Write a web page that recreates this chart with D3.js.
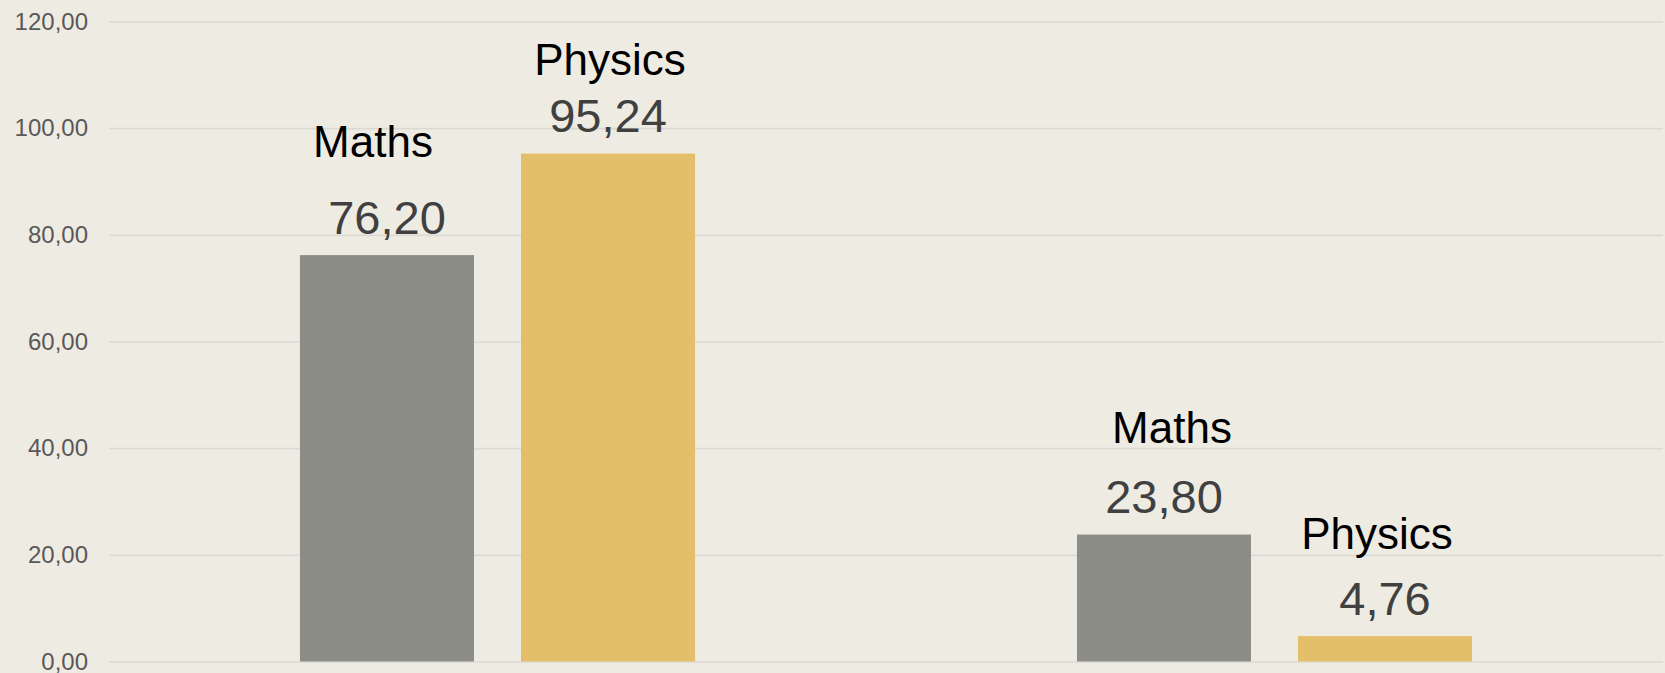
<!DOCTYPE html>
<html>
<head>
<meta charset="utf-8" />
<title>Maths vs Physics</title>
<script src="https://cdn.jsdelivr.net/npm/d3@7/dist/d3.min.js"></script>
<style>
    html, body { margin: 0; padding: 0; background: #eeebe3; }
    svg { display: block; font-family: "Liberation Sans", Arial, sans-serif; }
</style>
</head>
<body>
<script>
    var width = 1665;
    var height = 673;

    // data
    var categories = ["Group 1", "Group 2"];
    var series = ["Maths", "Physics"];
    var maths = [76.20, 23.80];   // Maths per category
    var physics = [95.24, 4.76];  // Physics per category
    var yTicks = [0, 20, 40, 60, 80, 100, 120];

    // hand-placed series name labels (dx, lift above value) like in the original
    var nameNudge = [[-14, 77], [2, 57], [8, 70], [-8, 66]];

    var values = [maths, physics];
    var rows = [];
    categories.forEach(function (c, ci) {
        series.forEach(function (s, si) {
            rows.push({ cat: c, name: s, value: values[si][ci], k: ci * series.length + si });
        });
    });

    var colors = d3.scaleOrdinal().domain(series).range(["#8c8d86", "#e4bf6a"]);

    var svg = d3.select('body').append('svg').attr('width', width).attr('height', height);
    svg.append('rect').attr('width', width).attr('height', height).attr('fill', '#eeebe3');

    var x0 = d3.scaleBand().domain(categories).range([109, 1663]).padding(0);
    var x1 = d3.scaleBand().domain(series).range([0, x0.bandwidth()])
        .paddingInner(0.2127).paddingOuter(0.864);
    var y = d3.scaleLinear().domain([0, 120]).range([661.5, 21.5]);

    // grid + tick labels
    var yAxis = d3.axisLeft(y).tickValues(yTicks).tickSize(-(1663 - 109)).tickPadding(21)
        .tickFormat(function (d) { return d3.format('.2f')(d).replace('.', ','); });
    var gy = svg.append('g').attr('transform', 'translate(109,0)').call(yAxis);
    gy.select('.domain').remove();
    gy.selectAll('.tick line').attr('stroke', '#dcdad4').attr('stroke-width', 1.6);
    gy.selectAll('.tick text').attr('fill', '#595959').style('font-size', '24px');

    // bars
    var g = svg.append('g');
    g.selectAll('rect.bar').data(rows).enter().append('rect').attr('class', 'bar')
        .attr('x', function (d) { return x0(d.cat) + x1(d.name); })
        .attr('y', function (d) { return y(d.value); })
        .attr('width', x1.bandwidth())
        .attr('height', function (d) { return y(0) - y(d.value); })
        .attr('fill', function (d) { return colors(d.name); });

    // value labels
    g.selectAll('text.val').data(rows).enter().append('text').attr('class', 'val')
        .attr('x', function (d) { return x0(d.cat) + x1(d.name) + x1.bandwidth() / 2; })
        .attr('y', function (d) { return y(d.value) - 21.5; })
        .attr('text-anchor', 'middle').attr('fill', '#404040').style('font-size', '47px')
        .text(function (d) { return d3.format('.2f')(d.value).replace('.', ','); });

    // series name labels
    g.selectAll('text.name').data(rows).enter().append('text').attr('class', 'name')
        .attr('x', function (d) { return x0(d.cat) + x1(d.name) + x1.bandwidth() / 2 + nameNudge[d.k][0]; })
        .attr('y', function (d) { return y(d.value) - 21.5 - nameNudge[d.k][1]; })
        .attr('text-anchor', 'middle').attr('fill', '#000').style('font-size', '44px')
        .text(function (d) { return d.name; });
</script>
</body>
</html>
